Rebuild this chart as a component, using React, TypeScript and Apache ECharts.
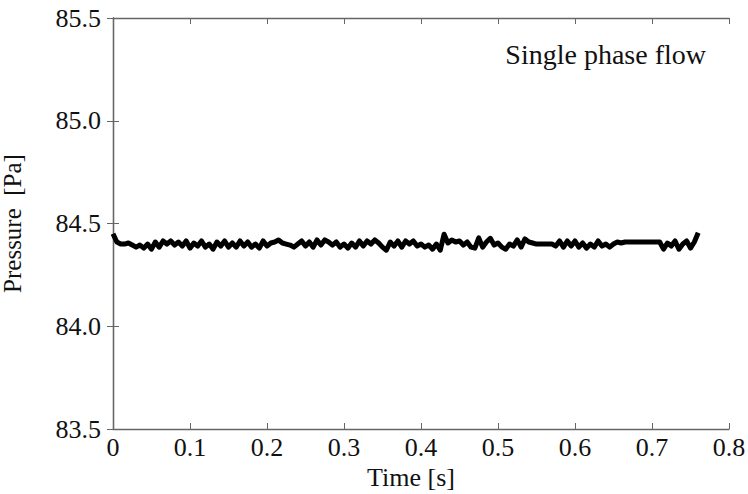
import React, { useEffect, useRef } from "react";
import * as echarts from "echarts";

const timeStep = 0.005;
const pressure = [
  84.45, 84.41, 84.4, 84.4, 84.405, 84.395, 84.385, 84.395, 84.38, 84.4,
  84.375, 84.41, 84.385, 84.415, 84.4, 84.415, 84.395, 84.41, 84.39, 84.415,
  84.38, 84.405, 84.39, 84.415, 84.385, 84.4, 84.375, 84.41, 84.39, 84.415,
  84.385, 84.405, 84.385, 84.415, 84.39, 84.41, 84.385, 84.4, 84.38, 84.415,
  84.39, 84.405, 84.41, 84.42, 84.405, 84.4, 84.395, 84.385, 84.4, 84.415,
  84.39, 84.41, 84.385, 84.42, 84.395, 84.42, 84.41, 84.395, 84.41, 84.385,
  84.4, 84.38, 84.405, 84.385, 84.415, 84.39, 84.415, 84.4, 84.42, 84.405,
  84.385, 84.37, 84.41, 84.39, 84.415, 84.385, 84.415, 84.4, 84.415, 84.39,
  84.4, 84.385, 84.395, 84.375, 84.4, 84.37, 84.448, 84.405, 84.42, 84.41,
  84.415, 84.395, 84.41, 84.385, 84.38, 84.43, 84.385, 84.41, 84.428, 84.395,
  84.405, 84.385, 84.375, 84.4, 84.39, 84.42, 84.385, 84.425, 84.41, 84.405,
  84.4, 84.4, 84.4, 84.4, 84.4, 84.39, 84.415, 84.385, 84.415, 84.39,
  84.415, 84.385, 84.405, 84.38, 84.4, 84.385, 84.415, 84.39, 84.4, 84.385,
  84.4, 84.41, 84.405, 84.41, 84.41, 84.41, 84.41, 84.41, 84.41, 84.41,
  84.41, 84.41, 84.41, 84.375, 84.405, 84.39, 84.415, 84.375, 84.4, 84.415,
  84.38, 84.41, 84.455,
];
const xTicks = [0, 0.1, 0.2, 0.3, 0.4, 0.5, 0.6, 0.7, 0.8];
const yTicks = [83.5, 84.0, 84.5, 85.0, 85.5];
const annotation = "Single phase flow";

const FONT = "'Liberation Serif', 'Times New Roman', serif";

export default function App() {
  const ref = useRef<HTMLDivElement>(null);
  useEffect(() => {
    if (!ref.current) return;
    const chart = echarts.init(ref.current, undefined, { renderer: "svg" });
    const data = pressure.map((v, i) => [+(i * timeStep).toFixed(4), v]);
    const axisLine = { show: true, lineStyle: { color: "#666", width: 1.3 } };
    const tick = { show: true, inside: true, length: 6, lineStyle: { color: "#666", width: 1 } };
    chart.setOption({
      animation: false,
      backgroundColor: "#fff",
      grid: { left: 113, right: 19, top: 18, bottom: 65, containLabel: false, outerBoundsMode: "none" },
      xAxis: [
        {
          type: "value",
          min: xTicks[0],
          max: xTicks[xTicks.length - 1],
          interval: 0.1,
          axisLine,
          axisTick: tick,
          splitLine: { show: false },
          axisLabel: {
            fontFamily: FONT,
            fontSize: 26,
            color: "#111",
            margin: 5,
            formatter: (v: number) => (v === 0 ? "0" : v.toFixed(1)),
          },
          name: "Time [s]",
          nameLocation: "middle",
          nameGap: 34,
          nameTextStyle: {
            fontFamily: FONT,
            fontSize: 26,
            color: "#111",
            verticalAlign: "top",
            padding: [0, 20, 0, 0],
          },
        },
        {
          type: "value",
          position: "top",
          min: xTicks[0],
          max: xTicks[xTicks.length - 1],
          interval: 0.1,
          axisLine,
          axisTick: tick,
          axisLabel: { show: false },
          splitLine: { show: false },
        },
      ],
      yAxis: [
        {
          type: "value",
          min: yTicks[0],
          max: yTicks[yTicks.length - 1],
          interval: 0.5,
          axisLine,
          axisTick: tick,
          splitLine: { show: false },
          axisLabel: {
            fontFamily: FONT,
            fontSize: 26,
            color: "#111",
            margin: 12,
            formatter: (v: number) => v.toFixed(1),
          },
          name: "Pressure  [Pa]",
          nameLocation: "middle",
          nameGap: 88,
          nameTextStyle: { fontFamily: FONT, fontSize: 25, color: "#111" },
        },
        {
          type: "value",
          position: "right",
          min: yTicks[0],
          max: yTicks[yTicks.length - 1],
          interval: 0.5,
          axisLine,
          axisTick: tick,
          axisLabel: { show: false },
          splitLine: { show: false },
        },
      ],
      graphic: [
        {
          type: "text",
          right: 42,
          top: 40,
          style: { text: annotation, fontFamily: FONT, fontSize: 28, fill: "#111" },
        },
      ],
      series: [
        {
          type: "line",
          data,
          showSymbol: false,
          lineStyle: { color: "#000", width: 5, join: "round" },
        },
      ],
    });
    return () => chart.dispose();
  }, []);
  return <div ref={ref} style={{ width: 748, height: 494, position: "absolute", left: 0, top: 0 }} />;
}
